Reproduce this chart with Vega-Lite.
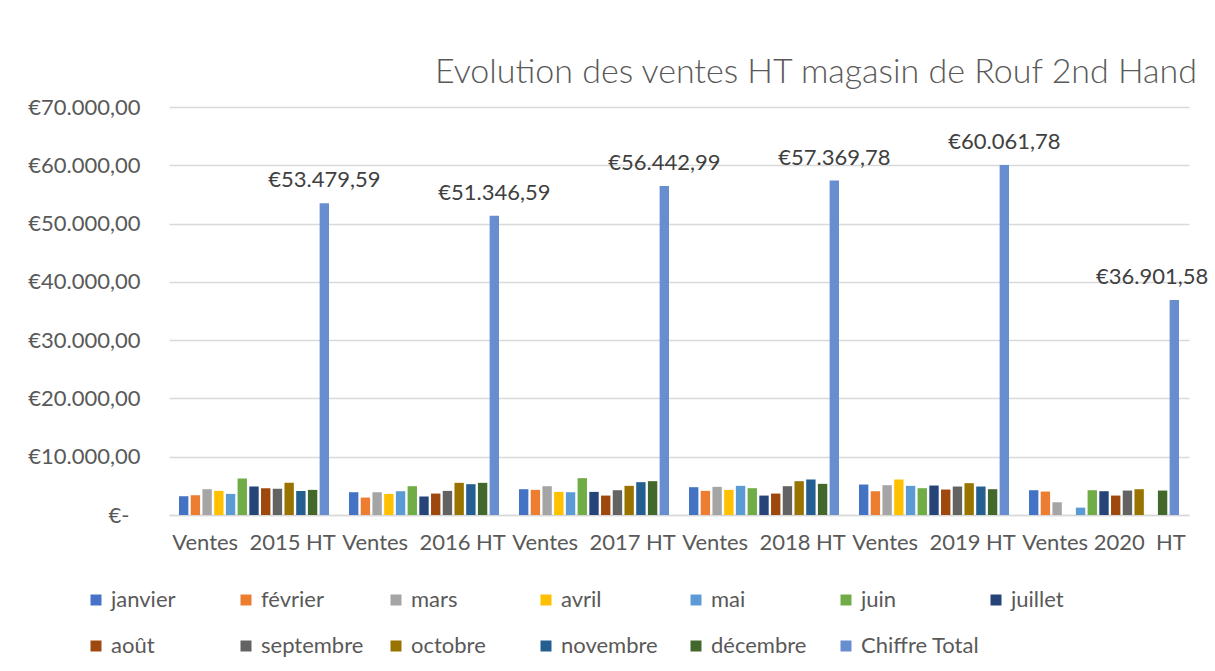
{
  "$schema": "https://vega.github.io/schema/vega-lite/v6.json",
  "width": 1020,
  "height": 408,
  "autosize": {"type": "none"},
  "padding": {"left": 169, "top": 107, "right": 26, "bottom": 156},
  "background": "white",
  "config": {
    "locale": {"number": {"decimal": ",", "thousands": ".", "grouping": [3], "currency": ["€", ""]}},
    "font": "Lato",
    "view": {"stroke": null}
  },
  "title": {
    "text": "Evolution des ventes HT magasin de Rouf 2nd Hand",
    "anchor": "end",
    "frame": "group",
    "fontSize": 34,
    "fontWeight": 300,
    "color": "#595959",
    "font": "Lato",
    "offset": 6,
    "dx": 8
  },
  "data": {
    "values": [
      {"annee": "Ventes 2015 HT", "serie": "janvier", "montant": 3218},
      {"annee": "Ventes 2015 HT", "serie": "février", "montant": 3390},
      {"annee": "Ventes 2015 HT", "serie": "mars", "montant": 4425},
      {"annee": "Ventes 2015 HT", "serie": "avril", "montant": 4138},
      {"annee": "Ventes 2015 HT", "serie": "mai", "montant": 3620},
      {"annee": "Ventes 2015 HT", "serie": "juin", "montant": 6264},
      {"annee": "Ventes 2015 HT", "serie": "juillet", "montant": 4885},
      {"annee": "Ventes 2015 HT", "serie": "août", "montant": 4598},
      {"annee": "Ventes 2015 HT", "serie": "septembre", "montant": 4483},
      {"annee": "Ventes 2015 HT", "serie": "octobre", "montant": 5517},
      {"annee": "Ventes 2015 HT", "serie": "novembre", "montant": 4138},
      {"annee": "Ventes 2015 HT", "serie": "décembre", "montant": 4310},
      {"annee": "Ventes 2015 HT", "serie": "Chiffre Total", "montant": 53479.59},
      {"annee": "Ventes 2016 HT", "serie": "janvier", "montant": 3908},
      {"annee": "Ventes 2016 HT", "serie": "février", "montant": 2989},
      {"annee": "Ventes 2016 HT", "serie": "mars", "montant": 3908},
      {"annee": "Ventes 2016 HT", "serie": "avril", "montant": 3621},
      {"annee": "Ventes 2016 HT", "serie": "mai", "montant": 4080},
      {"annee": "Ventes 2016 HT", "serie": "juin", "montant": 4943},
      {"annee": "Ventes 2016 HT", "serie": "juillet", "montant": 3161},
      {"annee": "Ventes 2016 HT", "serie": "août", "montant": 3678},
      {"annee": "Ventes 2016 HT", "serie": "septembre", "montant": 4138},
      {"annee": "Ventes 2016 HT", "serie": "octobre", "montant": 5517},
      {"annee": "Ventes 2016 HT", "serie": "novembre", "montant": 5287},
      {"annee": "Ventes 2016 HT", "serie": "décembre", "montant": 5517},
      {"annee": "Ventes 2016 HT", "serie": "Chiffre Total", "montant": 51346.59},
      {"annee": "Ventes 2017 HT", "serie": "janvier", "montant": 4425},
      {"annee": "Ventes 2017 HT", "serie": "février", "montant": 4310},
      {"annee": "Ventes 2017 HT", "serie": "mars", "montant": 4943},
      {"annee": "Ventes 2017 HT", "serie": "avril", "montant": 3966},
      {"annee": "Ventes 2017 HT", "serie": "mai", "montant": 3908},
      {"annee": "Ventes 2017 HT", "serie": "juin", "montant": 6322},
      {"annee": "Ventes 2017 HT", "serie": "juillet", "montant": 3966},
      {"annee": "Ventes 2017 HT", "serie": "août", "montant": 3333},
      {"annee": "Ventes 2017 HT", "serie": "septembre", "montant": 4253},
      {"annee": "Ventes 2017 HT", "serie": "octobre", "montant": 5000},
      {"annee": "Ventes 2017 HT", "serie": "novembre", "montant": 5632},
      {"annee": "Ventes 2017 HT", "serie": "décembre", "montant": 5805},
      {"annee": "Ventes 2017 HT", "serie": "Chiffre Total", "montant": 56442.99},
      {"annee": "Ventes 2018 HT", "serie": "janvier", "montant": 4770},
      {"annee": "Ventes 2018 HT", "serie": "février", "montant": 4138},
      {"annee": "Ventes 2018 HT", "serie": "mars", "montant": 4828},
      {"annee": "Ventes 2018 HT", "serie": "avril", "montant": 4310},
      {"annee": "Ventes 2018 HT", "serie": "mai", "montant": 5000},
      {"annee": "Ventes 2018 HT", "serie": "juin", "montant": 4598},
      {"annee": "Ventes 2018 HT", "serie": "juillet", "montant": 3333},
      {"annee": "Ventes 2018 HT", "serie": "août", "montant": 3678},
      {"annee": "Ventes 2018 HT", "serie": "septembre", "montant": 4943},
      {"annee": "Ventes 2018 HT", "serie": "octobre", "montant": 5805},
      {"annee": "Ventes 2018 HT", "serie": "novembre", "montant": 6092},
      {"annee": "Ventes 2018 HT", "serie": "décembre", "montant": 5345},
      {"annee": "Ventes 2018 HT", "serie": "Chiffre Total", "montant": 57369.78},
      {"annee": "Ventes 2019 HT", "serie": "janvier", "montant": 5230},
      {"annee": "Ventes 2019 HT", "serie": "février", "montant": 4080},
      {"annee": "Ventes 2019 HT", "serie": "mars", "montant": 5115},
      {"annee": "Ventes 2019 HT", "serie": "avril", "montant": 6092},
      {"annee": "Ventes 2019 HT", "serie": "mai", "montant": 5000},
      {"annee": "Ventes 2019 HT", "serie": "juin", "montant": 4598},
      {"annee": "Ventes 2019 HT", "serie": "juillet", "montant": 5057},
      {"annee": "Ventes 2019 HT", "serie": "août", "montant": 4368},
      {"annee": "Ventes 2019 HT", "serie": "septembre", "montant": 4885},
      {"annee": "Ventes 2019 HT", "serie": "octobre", "montant": 5460},
      {"annee": "Ventes 2019 HT", "serie": "novembre", "montant": 4885},
      {"annee": "Ventes 2019 HT", "serie": "décembre", "montant": 4425},
      {"annee": "Ventes 2019 HT", "serie": "Chiffre Total", "montant": 60061.78},
      {"annee": "Ventes 2020 HT", "serie": "janvier", "montant": 4253},
      {"annee": "Ventes 2020 HT", "serie": "février", "montant": 4023},
      {"annee": "Ventes 2020 HT", "serie": "mars", "montant": 2184},
      {"annee": "Ventes 2020 HT", "serie": "mai", "montant": 1264},
      {"annee": "Ventes 2020 HT", "serie": "juin", "montant": 4253},
      {"annee": "Ventes 2020 HT", "serie": "juillet", "montant": 4080},
      {"annee": "Ventes 2020 HT", "serie": "août", "montant": 3333},
      {"annee": "Ventes 2020 HT", "serie": "septembre", "montant": 4195},
      {"annee": "Ventes 2020 HT", "serie": "octobre", "montant": 4425},
      {"annee": "Ventes 2020 HT", "serie": "décembre", "montant": 4195},
      {"annee": "Ventes 2020 HT", "serie": "Chiffre Total", "montant": 36901.58}
    ]
  },
  "encoding": {
    "x": {
      "field": "annee",
      "type": "nominal",
      "sort": null,
      "scale": {"paddingInner": 0.1176, "paddingOuter": 0.0588},
      "axis": {
        "title": null,
        "labelAngle": 0,
        "ticks": false,
        "domainColor": "#D9D9D9",
        "domainWidth": 1.3,
        "labelPadding": 17,
        "labelFontSize": 22,
        "labelColor": "#595959",
        "labelLimit": 0,
        "labelOverlap": false,
        "labelExpr": "datum.label == 'Ventes 2020 HT' ? 'Ventes 2020\u00a0\u00a0HT' : replace(datum.label, ' ', '\u00a0\u00a0')"
      }
    },
    "xOffset": {
      "field": "serie",
      "type": "nominal",
      "sort": ["janvier", "février", "mars", "avril", "mai", "juin", "juillet", "août", "septembre", "octobre", "novembre", "décembre", "Chiffre Total"],
      "scale": {"paddingInner": 0.2, "paddingOuter": 0}
    },
    "y": {
      "field": "montant",
      "type": "quantitative",
      "scale": {"domain": [0, 70000]},
      "axis": {
        "title": null,
        "values": [0, 10000, 20000, 30000, 40000, 50000, 60000, 70000],
        "format": "$,.2f",
        "labelExpr": "datum.value == 0 ? '€-' : datum.label",
        "labelPadding": {"condition": {"test": "datum.value == 0", "value": 40}, "value": 29},
        "ticks": false,
        "domain": false,
        "gridColor": "#D9D9D9",
        "gridWidth": 1.3,
        "labelFontSize": 22,
        "labelColor": "#595959"
      }
    }
  },
  "layer": [
    {
      "mark": {"type": "bar"},
      "encoding": {
        "color": {
          "field": "serie",
          "type": "nominal",
          "scale": {
            "domain": ["janvier", "février", "mars", "avril", "mai", "juin", "juillet", "août", "septembre", "octobre", "novembre", "décembre", "Chiffre Total"],
            "range": ["#4472C4", "#ED7D31", "#A5A5A5", "#FFC000", "#5B9BD5", "#70AD47", "#264478", "#9E480E", "#636363", "#997300", "#255E91", "#43682B", "#698ED0"]
          },
          "legend": {
            "orient": "none",
            "legendX": -84,
            "legendY": 482,
            "direction": "horizontal",
            "columns": 7,
            "title": null,
            "symbolType": "square",
            "symbolSize": 121,
            "symbolStrokeWidth": 0,
            "labelFontSize": 22,
            "labelColor": "#595959",
            "labelOffset": 4,
            "columnPadding": 5,
            "rowPadding": 24,
            "gridAlign": "all"
          }
        }
      }
    },
    {
      "transform": [{"filter": "datum.serie == 'Chiffre Total' && datum.annee != 'Ventes 2020 HT'"}],
      "mark": {"type": "text", "baseline": "alphabetic", "dy": -16, "fontSize": 22, "color": "#404040"},
      "encoding": {
        "text": {"field": "montant", "type": "quantitative", "format": "$,.2f"}
      }
    },
    {
      "transform": [{"filter": "datum.serie == 'Chiffre Total' && datum.annee == 'Ventes 2020 HT'"}],
      "mark": {"type": "text", "baseline": "alphabetic", "align": "right", "dx": 34, "dy": -16, "fontSize": 22, "color": "#404040"},
      "encoding": {
        "text": {"field": "montant", "type": "quantitative", "format": "$,.2f"}
      }
    }
  ]
}
